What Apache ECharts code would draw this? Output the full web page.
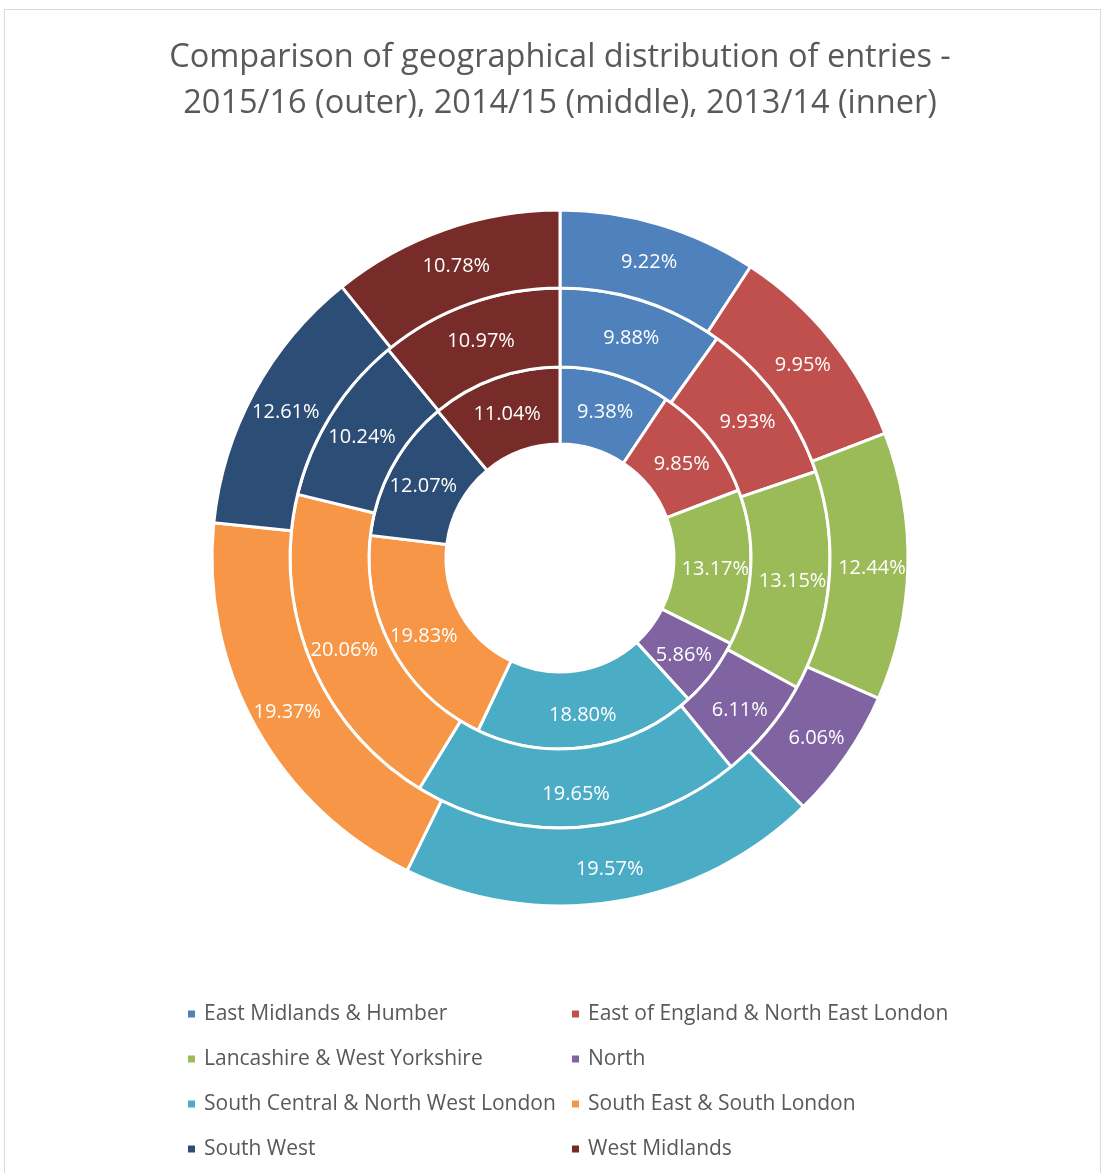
<!DOCTYPE html>
<html>
<head>
<meta charset="utf-8">
<script src="https://cdn.jsdelivr.net/npm/echarts@6/dist/echarts.min.js"></script>
<style>
    html, body { margin: 0; padding: 0; background: #fff; }
    #frame { position: absolute; left: 4px; top: 9px; width: 1095px; height: 1180px; border: 1px solid #d9d9d9; }
    #chart { position: absolute; left: 0; top: 0; width: 1104px; height: 1173px; }
</style>
</head>
<body>
<div id="frame"></div>
<div id="chart"></div>
<script>
// regions, clockwise from 12 o'clock
var regions = [
    'East Midlands & Humber',
    'East of England & North East London',
    'Lancashire & West Yorkshire',
    'North',
    'South Central & North West London',
    'South East & South London',
    'South West',
    'West Midlands'
];
var colors = ['#4F81BD', '#C0504D', '#9BBB59', '#8064A2', '#4BACC6', '#F79646', '#2C4D75', '#772C2A'];

// percentages
var outer2015 = [9.22, 9.95, 12.44, 6.06, 19.57, 19.37, 12.61, 10.78];
var middle2014 = [9.88, 9.93, 13.15, 6.11, 19.65, 20.06, 10.24, 10.97];
var inner2013 = [9.38, 9.85, 13.17, 5.86, 18.80, 19.83, 12.07, 11.04];

var FONT = '"Open Sans", Lato, sans-serif';

function toData(vals) {
    var arr = [];
    for (var i = 0; i < vals.length; i++) {
        arr.push({ name: regions[i], value: vals[i] });
    }
    return arr;
}

function ring(name, vals, radius) {
    return {
        name: name,
        type: 'pie',
        center: [560, 558],
        radius: radius,
        startAngle: 90,
        clockwise: true,
        avoidLabelOverlap: false,
        silent: true,
        itemStyle: { borderColor: '#fff', borderWidth: 3 },
        label: {
            show: true,
            position: 'inside',
            color: '#fff',
            fontFamily: FONT,
            fontSize: 20,
            offset: [0, 3],
            formatter: function(p) { return p.value.toFixed(2) + '%'; }
        },
        labelLine: { show: false },
        data: toData(vals)
    };
}

function legendCol(names, left) {
    return {
        orient: 'vertical',
        left: left,
        top: 998,
        icon: 'rect',
        itemWidth: 9,
        itemHeight: 9,
        itemGap: 23,
        selectedMode: false,
        textStyle: { color: '#595959', fontFamily: FONT, fontSize: 21, lineHeight: 22, padding: [0, 0, 0, 3] },
        data: names
    };
}

var leftNames = [], rightNames = [];
for (var i = 0; i < regions.length; i++) {
    (i % 2 == 0 ? leftNames : rightNames).push(regions[i]);
}

var chart = echarts.init(document.getElementById('chart'));
chart.setOption({
    animation: false,
    color: colors,
    title: {
        text: 'Comparison of geographical distribution of entries -\n2015/16 (outer), 2014/15 (middle), 2013/14 (inner)',
        left: 555,
        textAlign: 'center',
        top: 30,
        textStyle: { color: '#595959', fontFamily: FONT, fontWeight: 'normal', fontSize: 32.5, lineHeight: 46 }
    },
    legend: [legendCol(leftNames, 181), legendCol(rightNames, 565)],
    series: [
        ring('2013/14', inner2013, [114, 191]),
        ring('2014/15', middle2014, [191, 270]),
        ring('2015/16', outer2015, [270, 348])
    ]
});
</script>
</body>
</html>
